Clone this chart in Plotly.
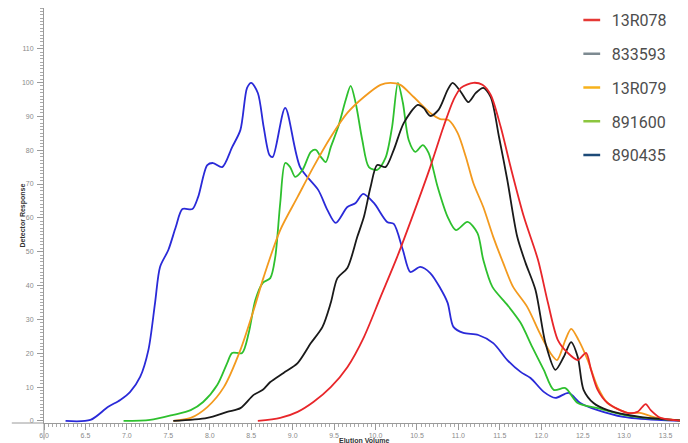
import plotly.graph_objects as go

# ---- data (elution volume, detector response) ----
names = ["13R078", "833593", "13R079", "891600", "890435"]
legend_colors = ["#e53935", "#7d8a91", "#f7b21b", "#8cc63f", "#1d4a78"]
line_colors = ["#e8262a", "#1a1a1a", "#f39a1e", "#2ec02e", "#2a2ad8"]

red_x = [8.58, 8.85, 9.06, 9.25, 9.46, 9.66, 9.86, 10.06, 10.26, 10.46, 10.66, 10.82, 10.94, 11.03, 11.18,
         11.29, 11.39, 11.51, 11.63, 11.79, 11.96, 12.08, 12.20, 12.32, 12.44, 12.54, 12.60, 12.68, 12.80,
         13.04, 13.16, 13.26, 13.32, 13.44, 13.77]
red_y = [0, 0.9, 2.7, 5.6, 10.0, 15.9, 24.8, 36.6, 48.4, 61.4, 75.0, 86.9, 94.8, 98.4, 99.9,
         99.3, 96.3, 86.9, 75.0, 60.3, 47.6, 34.9, 23.9, 20.1, 18.0, 20.1, 15.1, 9.2, 5.3,
         2.4, 2.7, 5.0, 3.2, 0.9, 0]

black_x = [7.56, 7.97, 8.21, 8.37, 8.53, 8.64, 8.73, 8.89, 9.06, 9.22, 9.36, 9.46, 9.54, 9.66, 9.78,
           9.86, 9.94, 10.02, 10.12, 10.22, 10.34, 10.51, 10.58, 10.66, 10.76, 10.87, 10.93, 11.03,
           11.12, 11.21, 11.30, 11.39, 11.49, 11.59, 11.71, 11.81, 11.93, 12.05, 12.17, 12.27, 12.36,
           12.44, 12.51, 12.63, 12.80, 13.19, 13.77]
black_y = [0, 0.9, 2.7, 3.8, 7.7, 9.2, 11.5, 14.2, 17.1, 23.0, 27.8, 34.9, 42.2, 45.2, 54.4,
           60.3, 69.1, 75.6, 75.0, 80.1, 88.0, 93.4, 92.5, 90.1, 91.9, 97.8, 99.9, 97.2,
           94.2, 96.9, 98.4, 95.7, 83.9, 71.2, 54.4, 46.7, 38.7, 23.0, 15.1, 18.9, 23.3,
           18.9, 9.2, 5.3, 3.2, 1.2, 0]

orange_x = [7.56, 7.77, 7.97, 8.17, 8.37, 8.53, 8.65, 8.85, 9.06, 9.25, 9.46, 9.66, 9.86, 10.06, 10.18,
            10.30, 10.46, 10.66, 10.78, 10.88, 10.99, 11.09, 11.18, 11.30, 11.42, 11.54, 11.66, 11.83,
            11.98, 12.11, 12.19, 12.29, 12.36, 12.45, 12.56, 12.68, 12.80, 13.04, 13.19, 13.40, 13.77]
orange_y = [0, 0.9, 4.1, 10.0, 21.0, 32.8, 42.5, 56.4, 66.2, 75.0, 83.9, 91.0, 95.7, 99.3, 99.9,
            99.3, 95.7, 91.0, 89.2, 88.9, 85.1, 78.0, 70.3, 63.2, 54.4, 46.7, 39.6, 33.7,
            26.0, 20.1, 18.0, 23.9, 27.2, 23.9, 18.0, 10.0, 5.3, 2.4, 2.4, 0.9, 0]

green_x = [6.96, 7.28, 7.56, 7.77, 7.92, 8.09, 8.21, 8.27, 8.39, 8.47, 8.55, 8.64, 8.73, 8.79, 8.85,
           8.91, 8.97, 9.03, 9.12, 9.22, 9.28, 9.34, 9.40, 9.46, 9.55, 9.64, 9.70, 9.76, 9.84, 9.92,
           10.02, 10.12, 10.20, 10.27, 10.33, 10.40, 10.48, 10.57, 10.64, 10.75, 10.87, 10.97, 11.11,
           11.23, 11.30, 11.41, 11.59, 11.75, 11.89, 12.03, 12.15, 12.29, 12.44, 12.68, 12.99, 13.40, 13.77]
green_y = [0, 0.3, 1.8, 3.2, 5.6, 10.6, 17.1, 20.1, 20.1, 26.0, 35.7, 40.8, 42.2, 48.4, 64.4,
           76.2, 75.0, 72.1, 74.2, 79.5, 80.1, 78.0, 76.5, 80.9, 86.9, 94.8, 99.0, 94.0, 83.0, 75.0,
           74.2, 77.7, 86.9, 99.9, 94.0, 83.0, 79.5, 81.5, 79.2, 69.1, 60.3, 56.4, 58.8,
           55.5, 47.6, 39.6, 34.3, 29.0, 21.9, 15.1, 9.2, 9.7, 5.3, 3.8, 1.8, 0.6, 0]

blue_x = [6.26, 6.56, 6.77, 6.92, 7.04, 7.16, 7.26, 7.34, 7.40, 7.50, 7.59, 7.67, 7.79, 7.86, 7.97,
          8.04, 8.15, 8.27, 8.37, 8.45, 8.50, 8.58, 8.65, 8.72, 8.76, 8.91, 9.09, 9.31, 9.42, 9.52,
          9.66, 9.76, 9.85, 9.98, 10.14, 10.22, 10.33, 10.42, 10.54, 10.66, 10.78, 10.87, 10.94,
          11.06, 11.24, 11.42, 11.59, 11.75, 11.87, 12.03, 12.17, 12.33, 12.47, 12.68, 12.99, 13.40, 13.77]
blue_y = [0, 0.3, 4.1, 6.2, 8.6, 13.0, 21.0, 34.9, 45.5, 50.5, 57.3, 62.6, 62.6, 66.2, 75.6,
          76.2, 75.0, 80.9, 86.0, 98.4, 99.9, 96.9, 86.9, 78.6, 78.0, 92.5, 75.0, 68.2, 62.3, 58.5,
          63.2, 64.4, 67.1, 64.4, 58.8, 58.2, 50.5, 44.0, 45.5, 43.7, 39.3, 34.9, 27.8,
          26.0, 25.4, 23.0, 18.0, 14.5, 12.7, 8.6, 6.8, 8.3, 5.3, 3.2, 1.2, 0.3, 0]

y_tick_values = [0, 10, 20, 30, 40, 50, 60, 70, 80, 90, 100, 110]

series_x = [red_x, black_x, orange_x, green_x, blue_x]
series_y = [red_y, black_y, orange_y, green_y, blue_y]
draw_order = [4, 3, 2, 1, 0]

x_range = [6.0, 13.77]
y_range = [-0.6, 122]

fig = go.Figure()
for i in draw_order:
    fig.add_trace(go.Scatter(
        x=series_x[i], y=series_y[i], mode="lines", name=names[i],
        legendgroup=names[i], showlegend=False,
        line=dict(color=line_colors[i], width=1.8, shape="spline", smoothing=0.8),
    ))
for i in range(5):
    fig.add_trace(go.Scatter(
        x=[None], y=[None], mode="markers", name=names[i], legendgroup=names[i],
        marker=dict(symbol="line-ew-open", size=12, color=legend_colors[i],
                    line=dict(color=legend_colors[i], width=2.5)),
    ))

axis_font = dict(family="Liberation Sans, Arial", size=7, color="#8a8a8a")
fig.update_xaxes(
    range=x_range, dtick=0.5, tick0=6.0, tickformat=".1f", showgrid=False, zeroline=False,
    showline=True, linecolor="#9a9a9a", linewidth=1, ticks="outside", ticklen=6, tickcolor="#9a9a9a",
    tickfont=axis_font, automargin=False,
    minor=dict(dtick=0.05, ticks="outside", ticklen=3, tickcolor="#aaaaaa"),
)
fig.update_yaxes(
    range=y_range, tickmode="array", tickvals=y_tick_values, showgrid=False, zeroline=False,
    showline=True, linecolor="#9a9a9a", linewidth=1, ticks="outside", ticklen=6, tickcolor="#9a9a9a",
    tickfont=axis_font, ticklabelstandoff=2, automargin=False,
    minor=dict(dtick=1, tick0=0, ticks="outside", ticklen=3, tickcolor="#aaaaaa"),
)

fig.update_layout(
    template="none",
    width=680, height=435,
    margin=dict(l=36, r=0, t=0, b=20, autoexpand=False),
    plot_bgcolor="white", paper_bgcolor="white",
    legend=dict(
        x=0.8195, y=1.012, xanchor="left", yanchor="top",
        font=dict(family="Roboto", size=16, color="#4d4d4d"),
        bgcolor="rgba(0,0,0,0)", tracegroupgap=10, itemwidth=30,
    ),
    annotations=[
        dict(text="<b>Detector Response</b>", xref="paper", yref="paper", x=-0.042, y=0.5,
             textangle=-90, showarrow=False, font=dict(family="Liberation Sans, Arial", size=7, color="#333")),
        dict(text="<b>Elution Volume</b>", xref="paper", yref="paper", x=0.498, y=-0.043,
             yanchor="middle", showarrow=False, font=dict(family="Liberation Sans, Arial", size=7, color="#333")),
    ],
    shapes=[
        dict(type="line", xref="paper", yref="paper", x0=-0.05, x1=0, y0=0, y1=0,
             line=dict(color="#9a9a9a", width=1)),
        dict(type="line", xref="paper", yref="paper", x0=0, x1=0, y0=0, y1=-0.04,
             line=dict(color="#9a9a9a", width=1)),
    ],
)

fig.write_html("out.html")
